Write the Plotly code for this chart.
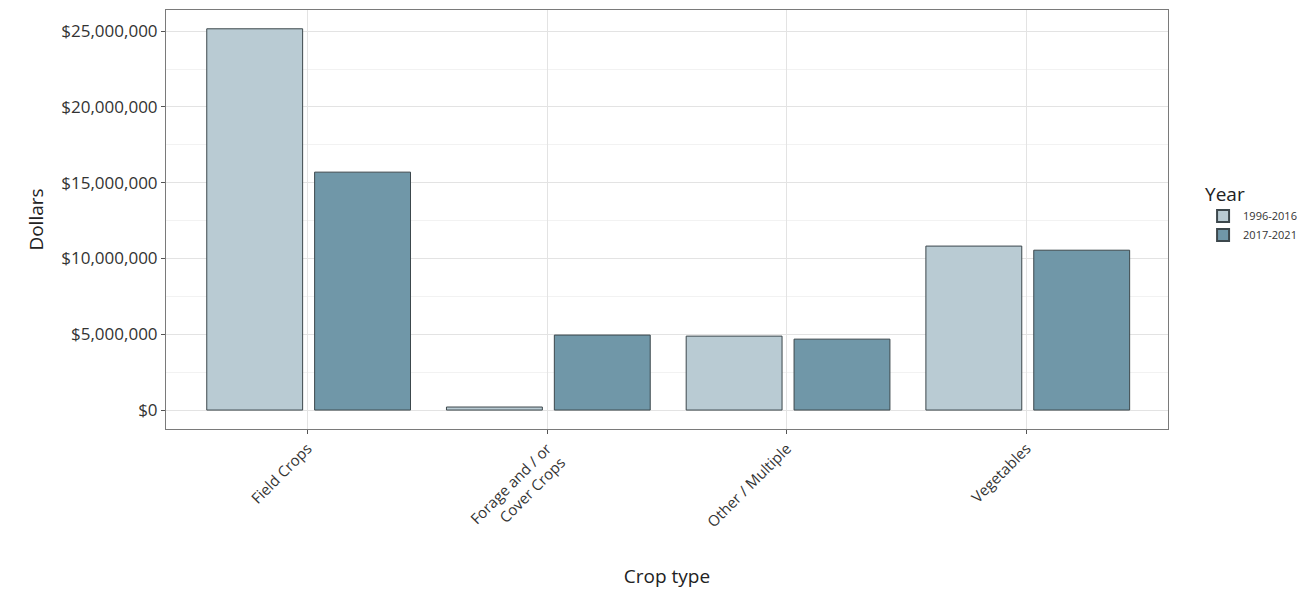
import plotly.graph_objects as go

categories = ["Field Crops", "Forage and / or<br>Cover Crops", "Other / Multiple", "Vegetables"]
years = ["1996-2016", "2017-2021"]
values_1996_2016 = [25160000, 200000, 4880000, 10820000]
values_2017_2021 = [15700000, 4950000, 4680000, 10550000]
colors = ["#b9cbd3", "#7097a8"]

FONT = "Open Sans"
fig = go.Figure()
for name, vals, col, off in [(years[0], values_1996_2016, colors[0], -0.42),
                             (years[1], values_2017_2021, colors[1], 0.03)]:
    fig.add_trace(go.Bar(
        x=list(range(len(categories))), y=vals, name=name,
        marker=dict(color=col, line=dict(color="#3c474c", width=1)),
        width=0.4, offset=off,
    ))

fig.update_layout(
    width=1299, height=582,
    margin=dict(l=158, r=139, t=2, b=161),
    plot_bgcolor="white", paper_bgcolor="white",
    font=dict(family=FONT, color="#333333", size=15),
    barmode="group",
    showlegend=True,
    legend=dict(
        title=dict(text="Year", font=dict(size=19, color="#222222")),
        x=1.035, xanchor="left", y=0.515, yanchor="middle",
        font=dict(size=11, color="#333333"),
        tracegroupgap=0, itemsizing="constant",
    ),
)
fig.update_xaxes(
    tickmode="array", tickvals=list(range(len(categories))), ticktext=categories,
    range=[-0.59, 3.59], tickangle=-45,
    showgrid=True, gridcolor="#e3e3e3", gridwidth=1,
    showline=True, linecolor="#7a7a7a", linewidth=1, mirror=True,
    ticks="outside", ticklen=4, tickcolor="#555555",
    tickfont=dict(size=15, color="#333333"),
    title=dict(text="Crop type", font=dict(size=19, color="#222222"), standoff=28),
    zeroline=False, automargin=False,
)
fig.update_yaxes(
    range=[-1250000, 26400000],
    tickmode="linear", tick0=0, dtick=5000000,
    tickprefix="$", tickformat=",.0f",
    showgrid=True, gridcolor="#e3e3e3", gridwidth=1.3,
    minor=dict(dtick=2500000, tick0=0, showgrid=True, gridcolor="#f2f2f2", gridwidth=1),
    showline=True, linecolor="#7a7a7a", linewidth=1, mirror=True,
    ticks="outside", ticklen=4, tickcolor="#555555",
    tickfont=dict(size=17, color="#333333"),
    title=dict(text="Dollars", font=dict(size=19, color="#222222"), standoff=12),
    zeroline=False, automargin=False,
)
fig.write_html("out.html")
